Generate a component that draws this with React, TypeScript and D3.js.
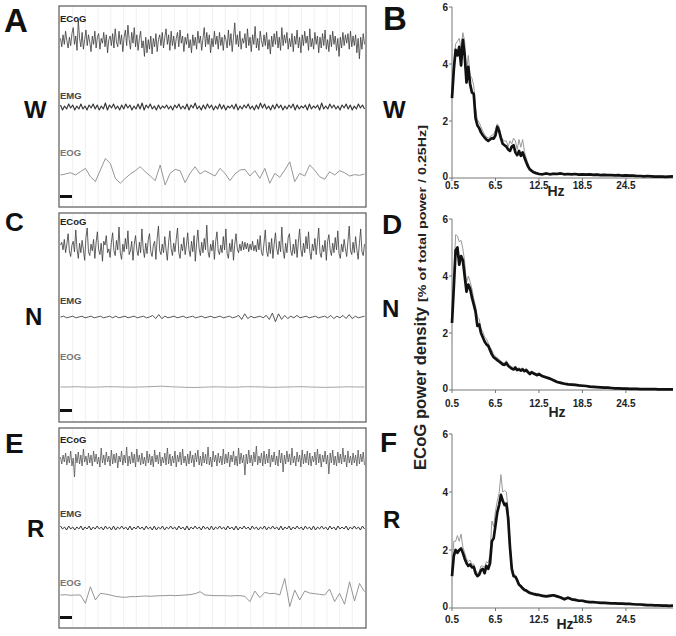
import React from 'react';
import * as d3 from 'd3';

const FONT = "'Liberation Sans', Arial, Helvetica, sans-serif";

// ---------- Spectral data (ECoG power density, % of total power / 0.25Hz) ----------
const hzFine = d3.range(0.5, 12.5, 0.25); // 0.5 .. 12.25
const hzCoarse = d3.range(12.5, 31.01, 0.5); // 12.5 .. 31
const hzBins = [...hzFine, ...hzCoarse];

const xTickValues = [0.5, 6.5, 12.5, 18.5, 24.5];
const xTickLabels = ['0.5', '6.5', '12.5', '18.5', '24.5'];
const yTickValues = [0, 2, 4, 6];

// W (wake)
const wakeMean = [
  2.8, 3.8, 4.5, 4.3, 4.6, 3.95, 4.85, 4.3, 3.35, 3.9, 3.3, 3.0, 2.95, 2.1, 1.85, 1.75,
  1.6, 1.5, 1.42, 1.35, 1.3, 1.35, 1.4, 1.38, 1.5, 1.8, 1.65, 1.4, 1.2, 1.15, 1.1, 1.0,
  0.95, 1.1, 1.15, 0.9, 0.8, 0.95, 0.78, 0.9, 0.72, 0.55, 0.4, 0.3, 0.25, 0.2, 0.18, 0.16,
  0.14, 0.13, 0.16, 0.13, 0.15, 0.14, 0.16, 0.13, 0.14, 0.13, 0.14, 0.12, 0.13, 0.12, 0.13, 0.11,
  0.12, 0.1, 0.11, 0.1, 0.1, 0.09, 0.1, 0.08, 0.09, 0.08, 0.08, 0.07, 0.07, 0.06, 0.07, 0.06,
  0.05, 0.05, 0.05, 0.04, 0.05, 0.06,
];
const wakeSem = [
  0.1, 0.2, 0.2, 0.5, 0.3, 0.6, 0.25, 0.5, 0.3, 0.4, 0.3, 0.5, 0.3, 0.35, 0.2, 0.2,
  0.2, 0.15, 0.1, 0.1, 0.1, 0.1, 0.1, 0.15, 0.2, 0.1, 0.15, 0.1, 0.15, 0.15, 0.2, 0.1,
  0.35, 0.1, 0.25, 0.4, 0.2, 0.4, 0.3, 0.45, 0.2, 0.15, 0.1, 0.05, 0.05, 0.03, 0.03, 0.02,
  0.03, 0.02, 0.03, 0.02, 0.02, 0.03, 0.02, 0.02, 0.02, 0.02, 0.02, 0.02, 0.02, 0.02, 0.02, 0.02,
  0.02, 0.02, 0.02, 0.02, 0.02, 0.02, 0.02, 0.02, 0.02, 0.02, 0.02, 0.02, 0.02, 0.02, 0.02, 0.02,
  0.02, 0.02, 0.02, 0.02, 0.02, 0.02,
];

// N (NREM)
const nremMean = [
  2.35, 3.6, 4.9, 5.0, 4.4, 4.7, 4.55, 4.0, 3.45, 3.7, 3.55, 3.25, 3.0, 2.75, 2.25, 2.3,
  2.0, 1.85, 1.7, 1.6, 1.55, 1.4, 1.25, 1.15, 1.1, 1.05, 1.0, 0.95, 0.9, 0.88, 0.95, 0.85,
  0.8, 0.75, 0.72, 0.78, 0.7, 0.72, 0.68, 0.72, 0.66, 0.7, 0.62, 0.56, 0.62, 0.58, 0.55, 0.52,
  0.56, 0.48, 0.44, 0.4, 0.34, 0.28, 0.25, 0.22, 0.2, 0.19, 0.18, 0.16, 0.15, 0.14, 0.12, 0.11,
  0.1, 0.09, 0.08, 0.08, 0.07, 0.06, 0.06, 0.05, 0.05, 0.04, 0.04, 0.04, 0.03, 0.03, 0.03, 0.03,
  0.03, 0.02, 0.02, 0.02, 0.02, 0.02,
];
const nremSem = [
  0.2, 0.3, 0.55, 0.4, 0.8, 0.55, 0.4, 0.5, 0.3, 0.3, 0.25, 0.3, 0.2, 0.2, 0.3, 0.2,
  0.15, 0.2, 0.15, 0.2, 0.1, 0.1, 0.15, 0.1, 0.08, 0.08, 0.08, 0.06, 0.06, 0.06, 0.08, 0.06,
  0.06, 0.05, 0.08, 0.06, 0.05, 0.06, 0.05, 0.06, 0.05, 0.06, 0.05, 0.05, 0.05, 0.05, 0.05, 0.05,
  0.05, 0.04, 0.04, 0.04, 0.03, 0.03, 0.03, 0.03, 0.03, 0.02, 0.02, 0.02, 0.02, 0.02, 0.02, 0.02,
  0.02, 0.02, 0.02, 0.02, 0.02, 0.02, 0.02, 0.02, 0.02, 0.02, 0.02, 0.02, 0.02, 0.02, 0.02, 0.02,
  0.02, 0.02, 0.02, 0.02, 0.02, 0.02,
];

// R (REM)
const remMean = [
  1.1, 1.8, 2.0, 1.9, 2.0, 2.05, 1.9, 1.7, 1.55, 1.45, 1.5, 1.4, 1.42, 1.2, 1.1, 1.15,
  1.3, 1.35, 1.2, 1.45, 1.35, 1.55, 2.3, 2.4, 2.85, 3.3, 3.55, 3.9, 3.7, 3.55, 3.6, 3.1,
  2.1, 1.35, 1.1, 1.08, 0.95, 0.8, 0.75, 0.68, 0.62, 0.6, 0.55, 0.52, 0.5, 0.48, 0.47, 0.45,
  0.45, 0.42, 0.4, 0.42, 0.44, 0.4, 0.36, 0.3, 0.35, 0.3, 0.28, 0.25, 0.25, 0.22, 0.2, 0.2,
  0.19, 0.18, 0.18, 0.17, 0.16, 0.16, 0.15, 0.15, 0.14, 0.14, 0.13, 0.12, 0.12, 0.11, 0.1, 0.1,
  0.09, 0.09, 0.08, 0.08, 0.07, 0.08,
];
const remSem = [
  0.2, 0.5, 0.3, 0.6, 0.3, 0.5, 0.2, 0.2, 0.15, 0.15, 0.15, 0.1, 0.1, 0.1, 0.1, 0.1,
  0.15, 0.1, 0.2, 0.15, 0.2, 0.3, 0.7, 0.4, 0.5, 0.4, 0.4, 0.7, 0.3, 0.5, 0.4, 0.3,
  0.2, 0.1, 0.05, 0.05, 0.05, 0.05, 0.05, 0.05, 0.04, 0.04, 0.04, 0.04, 0.04, 0.04, 0.04, 0.04,
  0.03, 0.03, 0.03, 0.03, 0.03, 0.03, 0.03, 0.03, 0.03, 0.03, 0.02, 0.02, 0.02, 0.02, 0.02, 0.02,
  0.02, 0.02, 0.02, 0.02, 0.02, 0.02, 0.02, 0.02, 0.02, 0.02, 0.02, 0.02, 0.02, 0.02, 0.02, 0.02,
  0.02, 0.02, 0.02, 0.02, 0.02, 0.02,
];

// ---------- Raw traces (arbitrary units) ----------
const wakeEcog = [
  3, -4, 6, -2, 9, 1, -5, 4, -3, 7,
  12, -2, 5, -7, 18, 3, -4, 8, -6, 2,
  10, -3, 6, 0, -8, 5, -2, 9, -5, 4,
  7, -6, 3, -1, 8, -4, 6, -9, 2, 5,
  -3, 7, -5, 11, 0, -4, 9, -2, 6, -8,
  4, 10, -3, 14, 2, -6, 8, -1, 12, -4,
  6, -7, 3, 9, -5, 1, -12, 4, -9, 2,
  -6, 5, -10, 3, -4, 7, -8, 2, 6, -3,
  8, -5, 4, 11, -2, 6, -7, 9, -3, 5,
  -6, 3, 8, -4, 10, -1, 5, -8, 4, -2,
  7, -5, 2, -9, 6, -3, 4, -6, 9, -1,
  5, -7, 3, 12, -4, 8, -2, 6, -9, 3,
  -4, 9, -2, 5, -6, 8, -3, 4, -7, 6,
  2, -5, 10, -3, 7, -8, 4, 16, -2, 6,
  -4, 9, -6, 3, -1, 7, -5, 11, -3, 4,
  -8, 6, -2, 13, -5, 3, -7, 9, 1, -4,
  6, -3, 8, -6, 2, -10, 5, -4, 7, -2,
  9, -5, 4, -7, 12, -3, 6, -1, 8, -6,
  3, -4, 7, -8, 5, -2, 10, -5, 4, -9,
  6, -3, 9, -1, 5, -7, 11, -4, 3, -6,
  8, -2, 5, -9, 4, -5, 7, -3, 10, -6,
  2, -8, 6, -4, 9, -2, 5, -7, 3, -12,
  4, -5, 8, -3, 6, -1, 7, -6, 9, -4,
  5, -3, 6, -9, 3, -14, 4, -6, 7, -2,
];
const wakeEmg = [
  2, -3, 1, -2, 3, -1, 2, -3, 1, -2,
  3, -2, 1, -3, 2, -1, 3, -2, 2, -3,
  1, -2, 4, -3, 2, -1, 3, -2, 1, -3,
  2, -2, 3, -1, 2, -3, 1, -2, 3, -2,
  4, -3, 2, -1, 3, -2, 1, -3, 2, -2,
  1, -1, 2, -2, 1, -3, 2, -1, 3, -2,
  1, -2, 3, -3, 2, -1, 4, -2, 1, -3,
  2, -2, 3, -1, 2, -3, 1, -2, 3, -2,
  2, -3, 1, -1, 2, -2, 3, -3, 1, -2,
  2, -1, 3, -2, 1, -3, 2, -2, 4, -1,
  3, -2, 1, -3, 2, -2, 3, -1, 2, -3,
  1, -2, 2, -1, 3, -3, 2, -2, 1, -1,
  2, -3, 3, -2, 1, -1, 2, -3, 4, -2,
  1, -2, 3, -1, 2, -2, 1, -3, 2, -1,
  3, -2, 2, -3, 1, -2, 3, -1, 2, -2,
];
const wakeEog = [
  0, 3, 7, 0, 10, 20, -5, -20, 15, 50, 35, -10, -25, -10, 3, 13, 25, 10, -3, -17, 30, -30, 5, 17, 13, -23,
  5, 25, 3, 13, 5, -3, 20, 5, -17, 3, 15, 17, -3, 13, -10, 20, -25, 5, -7, 15, 40, -20, 5, -3, 30, 15,
  -5, -13, 10, 0, 13, 7, -3, 1, -1, 3,
];

const nremEcog = [
  2, 5, -3, 8, -6, 3, 14, -4, -10, 2,
  6, -5, 18, -2, -12, 4, -6, 7, -3, -14,
  10, 20, -5, -9, 3, -4, 8, -12, 5, 16,
  -3, -8, 4, -15, 6, 2, 12, -6, -2, -11,
  5, 15, -4, -9, 7, -3, 21, -6, -13, 3,
  -5, 9, -2, 17, -8, -4, 6, -14, 3, 12,
  -3, -9, 5, -6, 19, -2, -11, 4, -7, 8,
  14, -5, -10, 2, 6, -13, 9, 22, -4, -8,
  3, -6, 11, -3, -14, 5, 17, -2, -9, 4,
  -5, 8, 20, -6, -12, 3, -4, 10, -8, 2,
  15, -3, -10, 6, -5, 12, -15, 4, 18, -2,
  -9, 5, -6, 9, -3, 23, -5, -11, 3, -4,
  7, -13, 6, 16, -4, -8, 2, -6, 11, -3,
  19, -7, -12, 4, -5, 8, -14, 3, 14, -2,
  -6, 3, -4, 6, -3, 5, -2, 4, -5, 3,
  -3, 6, -4, 2, -5, 8, -3, 12, -6, -9,
  4, 18, -4, -10, 5, -7, 9, -12, 3, 15,
  -2, -8, 6, -5, 21, -3, -12, 4, -6, 10,
  14, -4, -9, 3, -7, 8, -11, 5, 19, -3,
  -10, 4, -6, 11, -2, 16, -5, -13, 3, -4,
  9, -8, 5, 20, -6, -11, 2, -5, 7, -14,
  6, 13, -3, -9, 4, -6, 10, -3, 17, -7,
  -12, 3, -5, 8, -2, -10, 6, 22, -4, -8,
  5, -6, 11, -3, -13, 4, 19, -5, -9, 3,
];
const nremEmg = [
  0, 1, -1, 0, 1, -1, 0, 1, -1, 0, 1, -1, 0, 1, -1, 0, 1, -1, 1, -1,
  0, 1, -1, 0, 1, -1, 0, 1, -1, 0, 2, -2, 3, -2, 1, -1, 0, 1, -1, 0,
  1, -1, 0, 1, -1, 0, 1, -1, 0, 1, -1, 0, 1, -1, 0, 1, -1, 0, 2, -3,
  4, -2, 1, -1, 0, 1, -1, 2, -3, 5, -6, 4, -3, 2, -2, 1, -1, 2, -1, 0,
  1, -1, 0, 1, -1, 0, 1, -1, 2, -2, 1, -1, 2, -2, 3, -2, 1, -1, 0, 1,
];
const nremEog = [
  0, 0, 0.3, 0, -0.2, 0, 0.3, 0.2, 0, -0.2, 0, 0.2, 0.5, 0.8, 0.3, 0, -0.3, -0.5, -0.3, 0,
  0.2, 0, -0.2, 0, 0.3, 0.2, 0, -0.3, -0.2, 0, 0.2, 0.3, 0, -0.2, -0.4, -0.2, 0, 0.2, 0, 0,
];

const remEcog = [
  3, -4, 5, -2, 7, -5, 4, -3, 9, -6,
  2, -17, 6, -3, 8, -4, 5, -6, 11, -2,
  4, -5, 7, -3, 5, -6, 9, -2, 6, -4,
  3, -7, 12, -3, 5, -5, 8, -2, 4, -6,
  10, -4, 6, -3, 7, -8, 4, -2, 9, -5,
  5, -3, 13, -6, 4, -4, 8, -3, 6, -7,
  11, -2, 5, -5, 7, -4, 3, -6, 9, -3,
  6, -5, 4, -7, 10, -2, 5, -4, 8, -6,
  3, -3, 7, -5, 12, -4, 6, -6, 4, -3,
  9, -7, 5, -2, 8, -5, 11, -3, 4, -6,
  6, -4, 9, -3, 5, -7, 7, -2, 10, -5,
  4, -6, 8, -3, 6, -4, 13, -5, 3, -7,
  9, -2, 5, -6, 7, -3, 4, -5, 11, -4,
  6, -3, 8, -7, 5, -2, 9, -5, 4, -6,
  12, -4, 7, -3, 5, -15, 6, -4, 10, -3,
  5, -6, 8, -2, 14, -5, 4, -3, 7, -6,
  9, -4, 6, -3, 11, -7, 5, -2, 8, -5,
  4, -6, 10, -3, 7, -12, 5, -4, 9, -2,
  6, -5, 12, -3, 4, -6, 8, -2, 5, -7,
  10, -4, 6, -3, 9, -5, 7, -6, 4, -2,
  8, -5, 11, -3, 6, -7, 5, -2, 9, -4,
  5, -14, 7, -3, 10, -5, 4, -6, 8, -3,
  6, -4, 12, -2, 5, -7, 9, -3, 4, -5,
  7, -3, 5, -6, 10, -4, 6, -2, 8, -5,
];
const remEmg = [
  2, -1, 1, -2, 2, -1, 1, -2, 1, -1,
  2, -2, 1, -1, 2, -2, 1, -1, 2, -1,
  1, -2, 2, -1, 1, -2, 2, -2, 1, -1,
  2, -1, 1, -2, 2, -2, 1, -1, 2, -1,
  1, -2, 2, -1, 1, -2, 2, -2, 1, -1,
  2, -2, 1, -1, 2, -1, 1, -2, 2, -1,
  1, -2, 2, -2, 1, -1, 2, -1, 1, -2,
  2, -1, 1, -2, 2, -2, 1, -1, 2, -1,
  1, -2, 2, -1, 1, -2, 2, -2, 1, -1,
  2, -1, 1, -2, 2, -1, 1, -2, 1, -1,
  2, -2, 1, -1, 2, -1, 1, -2, 2, -2,
  1, -1, 2, -2, 1, -1, 2, -1, 1, -2,
  2, -1, 1, -2, 2, -2, 1, -1, 2, -1,
  1, -2, 2, -1, 1, -2, 2, -1, 1, -1,
  2, -2, 1, -1, 2, -1, 1, -2, 2, -1,
];
const remEog = [
  0, 1, -1, 0, 0, -25, 25, -15, 5, 3, 0, -4, -6, -7, -5, -5, -4, -3, -4, -3, -2, -2, -1, -2, -1, 0,
  1, 4, 10, 0, -1, -2, -2, -2, -3, -2, -2, -4, -20, 12, -8, 8, 4, 5, 0, 50, -35, 15, -15, 12, 6, 4,
  2, 0, 18, -20, 5, -28, 40, -18, 35, 10,
];

// ---------- Components ----------
type TraceDef = { data: number[]; center: number; k: number; color: string; width: number; label: string; labelY: number; labelColor: string };

function TracePanel({ top, bottom, traces, barY }: { top: number; bottom: number; traces: TraceDef[]; barY: number }) {
  const x0 = 59;
  const x1 = 366;
  const t = d3.scaleLinear().domain([0, 24]).range([x0 + 1, x1 - 1]);
  const grid = d3.range(1, 24);
  return (
    <g>
      {grid.map((g) => (
        <line key={g} x1={t(g)} x2={t(g)} y1={top + 1} y2={bottom - 1} stroke="#ececec" strokeWidth={0.8} />
      ))}
      {traces.map((tr, i) => {
        const xs = d3.scaleLinear().domain([0, tr.data.length - 1]).range([x0 + 1.5, x1 - 1.5]);
        // k = pixels per data unit
        const ys = d3.scaleLinear().domain([-1, 1]).range([tr.center + tr.k, tr.center - tr.k]);
        const line = d3.line<number>().x((_, j) => xs(j)).y((d) => ys(d));
        return (
          <g key={i}>
            <path d={line(tr.data) || ''} fill="none" stroke={tr.color} strokeWidth={tr.width} strokeLinejoin="round" />
            <text x={x0 + 1} y={tr.labelY} fontFamily={FONT} fontWeight="bold" fontSize={9.5} fill={tr.labelColor}>
              {tr.label}
            </text>
          </g>
        );
      })}
      <rect x={x0 + 1} y={barY} width={12} height={3} fill="#111" />
      <rect x={x0} y={top} width={x1 - x0} height={bottom - top} fill="none" stroke="#666" strokeWidth={1.3} />
    </g>
  );
}

function SpectrumPanel({ yTop, yZero, mean, sem, labelDy, hzX, hzY }: { yTop: number; yZero: number; mean: number[]; sem: number[]; labelDy: number; hzX: number; hzY: number }) {
  const x = d3.scaleLinear().domain([0.5, 31]).range([452, 673]);
  const y = d3.scaleLinear().domain([0, 6]).range([yZero, yTop]);
  const line = d3.line<number>().x((_, i) => x(hzBins[i])).y((d) => y(d));
  const upper = mean.map((m, i) => m + sem[i]);
  return (
    <g fontFamily={FONT}>
      <line x1={x(0.5)} x2={x(0.5)} y1={y(6)} y2={y(0)} stroke="#777" strokeWidth={1} />
      <line x1={x(0.5)} x2={x(31)} y1={y(0)} y2={y(0)} stroke="#777" strokeWidth={1} />
      {yTickValues.map((v) => (
        <g key={v}>
          <line x1={x(0.5) - 3} x2={x(0.5)} y1={y(v)} y2={y(v)} stroke="#777" />
          <text x={x(0.5) - 4} y={y(v) + (v === 0 ? 2 : 3.5)} textAnchor="end" fontSize={10} fontWeight="bold" fill="#222">
            {v}
          </text>
        </g>
      ))}
      {xTickValues.map((v, i) => (
        <g key={v}>
          <line x1={x(v)} x2={x(v)} y1={y(0)} y2={y(0) + 3} stroke="#777" />
          <text x={x(v)} y={y(0) + labelDy} textAnchor="middle" fontSize={10} fontWeight="bold" fill="#222">
            {xTickLabels[i]}
          </text>
        </g>
      ))}
      <text x={hzX} y={hzY} textAnchor="middle" fontSize={14} fontWeight="bold" fill="#222">
        Hz
      </text>
      <path d={line(upper) || ''} fill="none" stroke="#9a9a9a" strokeWidth={1} />
      <path d={line(mean) || ''} fill="none" stroke="#111" strokeWidth={2.7} strokeLinejoin="round" />
    </g>
  );
}

function Letter({ x, y, size, children }: { x: number; y: number; size: number; children: React.ReactNode }) {
  return (
    <text x={x} y={y} fontFamily={FONT} fontWeight="bold" fontSize={size} fill="#111">
      {children}
    </text>
  );
}

export default function App() {
  return (
    <svg width={676} height={636} style={{ position: 'absolute', left: 0, top: 0, background: '#fff' }}>
      <rect width={676} height={636} fill="#fff" />
      {/* Left raw traces */}
      <TracePanel
        top={6}
        bottom={207}
        barY={195}
        traces={[
          { data: wakeEcog, center: 42, k: 1.2, color: '#3a3a3a', width: 0.8, label: 'ECoG', labelY: 22, labelColor: '#222' },
          { data: wakeEmg, center: 107, k: 1, color: '#333', width: 1.1, label: 'EMG', labelY: 99, labelColor: '#444' },
          { data: wakeEog, center: 175, k: 0.33, color: '#8a8a8a', width: 0.9, label: 'EOG', labelY: 156, labelColor: '#777' },
        ]}
      />
      <TracePanel
        top={213}
        bottom={422}
        barY={409}
        traces={[
          { data: nremEcog, center: 247, k: 0.95, color: '#3a3a3a', width: 0.8, label: 'ECoG', labelY: 225, labelColor: '#222' },
          { data: nremEmg, center: 317, k: 0.8, color: '#444', width: 0.9, label: 'EMG', labelY: 304, labelColor: '#444' },
          { data: nremEog, center: 387, k: 1, color: '#999', width: 0.9, label: 'EOG', labelY: 360, labelColor: '#777' },
        ]}
      />
      <TracePanel
        top={428}
        bottom={628}
        barY={616}
        traces={[
          { data: remEcog, center: 460, k: 1.0, color: '#555', width: 0.8, label: 'ECoG', labelY: 443, labelColor: '#222' },
          { data: remEmg, center: 528, k: 1, color: '#333', width: 1.0, label: 'EMG', labelY: 517, labelColor: '#444' },
          { data: remEog, center: 595, k: 0.33, color: '#8a8a8a', width: 0.9, label: 'EOG', labelY: 586, labelColor: '#777' },
        ]}
      />

      {/* Right spectra */}
      <SpectrumPanel yTop={7} yZero={178} mean={wakeMean} sem={wakeSem} labelDy={11} hzX={556} hzY={196} />
      <SpectrumPanel yTop={219} yZero={390} mean={nremMean} sem={nremSem} labelDy={17} hzX={557} hzY={417} />
      <SpectrumPanel yTop={434} yZero={608} mean={remMean} sem={remSem} labelDy={15} hzX={565} hzY={629} />

      {/* Y axis title */}
      <text transform="translate(426,470) rotate(-90)" fontFamily={FONT} fontWeight="bold" fontSize={16} fill="#222" textLength={163} lengthAdjust="spacingAndGlyphs">
        ECoG power density
      </text>
      <text transform="translate(426,302) rotate(-90)" fontFamily={FONT} fontWeight="bold" fontSize={10.5} fill="#222" textLength={177} lengthAdjust="spacingAndGlyphs">
        [% of total power / 0.25Hz]
      </text>

      {/* Panel letters */}
      <Letter x={4} y={32} size={33}>A</Letter>
      <Letter x={5} y={231} size={26}>C</Letter>
      <Letter x={5} y={453} size={28}>E</Letter>
      <Letter x={383} y={30} size={33}>B</Letter>
      <Letter x={382} y={234} size={28}>D</Letter>
      <Letter x={380} y={452} size={28}>F</Letter>

      {/* State labels */}
      <Letter x={24} y={118} size={24}>W</Letter>
      <Letter x={25} y={325} size={24}>N</Letter>
      <Letter x={27} y={537} size={24}>R</Letter>
      <Letter x={383} y={118} size={24}>W</Letter>
      <Letter x={382} y={317} size={24}>N</Letter>
      <Letter x={383} y={528} size={24}>R</Letter>
    </svg>
  );
}
